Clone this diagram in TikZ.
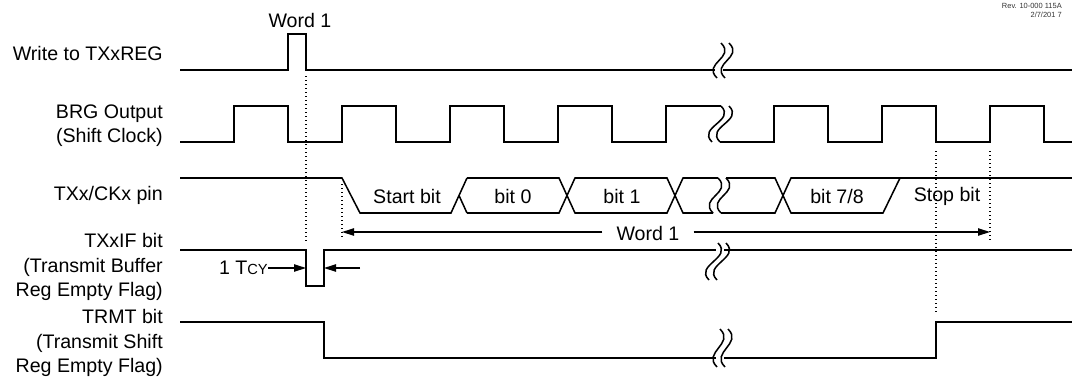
\documentclass[tikz,border=0pt]{standalone}
\usepackage{fontspec}
\setmainfont{Liberation Sans}
\usetikzlibrary{arrows.meta}
% break mark: #1 x top, #2 y top, #3 x bottom, #4 y bottom
\newcommand\brkpair[4]{%
  \draw[brk] (#1,#2) .. controls (#1+15,#2+15) and (#3-15,#4-15) .. (#3,#4);
  \draw[brk] (#1+8,#2) .. controls (#1+23,#2+15) and (#3-7,#4-15) .. (#3+8,#4);
}
\begin{document}
\begin{tikzpicture}[x=0.75pt,y=-0.75pt,
  wave/.style={line width=1.15pt, line join=miter},
  brk/.style={line width=1.15pt},
  dots/.style={line width=0.9pt, dash pattern=on 0.9pt off 2.1pt},
  arr/.style={line width=1pt, -{Triangle[length=9pt,width=5.5pt]}},
  lbl/.style={font=\fontsize{14.7pt}{18.4pt}\selectfont, inner sep=0pt},
  sig/.style={lbl, anchor=east, align=right},
  tiny/.style={font=\fontsize{5.6pt}{7pt}\selectfont, inner sep=0pt, anchor=east, text=black!80}]
\useasboundingbox[fill=white] (0,0) rectangle (1072,379);

% revision text
\node[tiny] (rev) at (1062,6) {Rev. 10-000 115A};
\node[tiny] (date) at (1062,15) {2/7/201 7};

% signal labels
\node[sig] (lwr) at (163,53) {Write to TXxREG};
\node[sig] (lbrg) at (163,125.5) {BRG Output\\(Shift Clock)};
\node[sig] (ltx) at (163,195) {TXx/CKx pin};
\node[sig] (lif) at (163,267) {TXxIF bit\\(Transmit Buffer\\Reg Empty Flag)};
\node[sig] (ltr) at (163,343) {TRMT bit\\(Transmit Shift\\Reg Empty Flag)};

% Write to TXxREG
\node[lbl] (w1top) at (300,20) {Word 1};
\draw[wave] (180,70) -- (288,70) -- (288,34) -- (306,34) -- (306,70) -- (715,70);
\draw[wave] (723,70) -- (1072,70);
\brkpair{721}{43}{717}{78}

% BRG output
\draw[wave] (180,142) -- (234,142) -- (234,106) -- (288,106) -- (288,142) -- (342,142)
  -- (342,106) -- (396,106) -- (396,142) -- (450,142) -- (450,106) -- (504,106)
  -- (504,142) -- (558,142) -- (558,106) -- (612,106) -- (612,142) -- (666,142)
  -- (666,106) -- (721,106);
\brkpair{721}{106}{712}{142}
\draw[wave] (720,142) -- (774,142) -- (774,106) -- (828,106) -- (828,142) -- (882,142)
  -- (882,106) -- (936,106) -- (936,142) -- (990,142) -- (990,106) -- (1044,106)
  -- (1044,142) -- (1072,142);

% TXx/CKx pin
\draw[wave] (180,178) -- (342,178) -- (360,213) -- (451,213) -- (467,178);
\draw[wave] (459,195.5) -- (467,213);
\draw[wave] (467,178) -- (559,178) -- (575,213) -- (667,213) -- (683,178) -- (718,178);
\draw[wave] (467,213) -- (559,213) -- (575,178) -- (667,178) -- (683,213) -- (713,213);
\brkpair{718}{178}{713}{213}
\draw[wave] (726,178) -- (775,178) -- (791,213) -- (883,213) -- (900,178);
\draw[wave] (721,213) -- (775,213) -- (791,178) -- (1072,178);
\node[lbl] (tstart) at (407,196) {Start bit};
\node[lbl] (tb0) at (513,196) {bit 0};
\node[lbl] (tb1) at (622,196) {bit 1};
\node[lbl] (tb7) at (837,196) {bit 7/8};
\node[lbl] (tstop) at (947,196) {Stop bit};

% Word 1 span
\coordinate (wl) at (342,232);
\coordinate (wr) at (990,232);
\node[lbl, inner xsep=10.5pt] (wmid) at (648,233) {Word 1};
\draw[arr] (wmid.west |- wl) -- (wl);
\draw[arr] (wmid.east |- wr) -- (wr);

% TXxIF
\draw[wave] (180,250) -- (306,250) -- (306,286) -- (324,286) -- (324,250) -- (716,250);
\draw[wave] (724,250) -- (1072,250);
\brkpair{718}{243}{709}{280}
\node[lbl, anchor=east] (tcy) at (268,268) {1 T{\fontsize{11pt}{11pt}\selectfont CY}};
\coordinate (tcyA) at (306,268);
\coordinate (tcyB0) at (360,268);
\coordinate (tcyB) at (324,268);
\draw[arr] (tcy.east) -- (tcyA);
\draw[arr] (tcyB0) -- (tcyB);

% TRMT
\draw[wave] (180,322) -- (324,322) -- (324,358) -- (716,358);
\brkpair{720}{329}{717}{367}
\draw[wave] (724,358) -- (936,358) -- (936,322) -- (1072,322);

% dotted guides
\draw[dots] (306,76) -- (306,241);
\draw[dots] (342,184) -- (342,238);
\draw[dots] (936,151) -- (936,314);
\draw[dots] (990,151) -- (990,240);
\end{tikzpicture}
\end{document}
